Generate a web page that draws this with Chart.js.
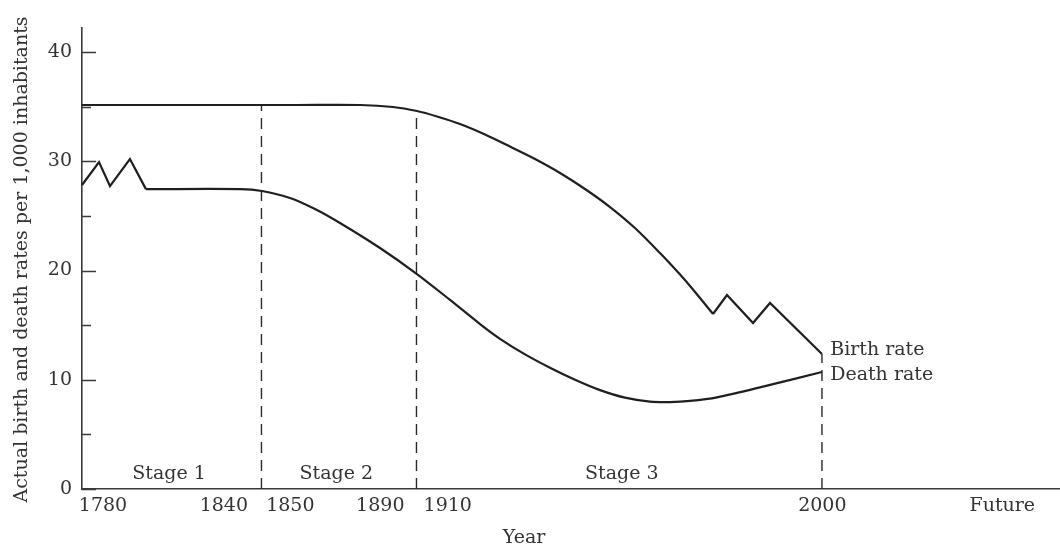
<!DOCTYPE html>
<html>
<head>
<meta charset="utf-8">
<script src="https://cdn.jsdelivr.net/npm/chart.js@4.4.1/dist/chart.umd.min.js"></script>
<style>
  html, body { margin: 0; padding: 0; background: #ffffff; }
  #wrap { width: 1060px; height: 548px; position: relative; }
</style>
</head>
<body>
<div id="wrap"><canvas id="c"></canvas></div>
<script>
// ---- data (x in schematic axis units 0..100, y in rate per 1,000) ----
const xTickPos    = [2.15, 14.5, 21.3, 30.5, 37.4, 75.7, 94.1];
const xTickLabels = ['1780', '1840', '1850', '1890', '1910', '2000', 'Future'];
const yMajorTicks = [0, 10, 20, 30, 40];
const yMinorTicks = [5, 15, 25, 35];

const birthX = [0, 22, 28.43, 31.8, 34.25, 36.3, 38.65, 41.21, 43.76, 46.32, 48.88, 51.43, 53.99, 56.54, 59.1, 61.15, 62.47, 64.52, 65.95, 68.61, 70.35, 75.66];
const birthY = [35.15, 35.15, 35.15, 34.97, 34.6, 34.1, 33.41, 32.45, 31.35, 30.21, 28.93, 27.46, 25.81, 23.89, 21.6, 19.63, 18.26, 16.02, 17.76, 15.19, 17.03, 12.36];
const birthSmoothEnd = 17;   // index where the smooth decline ends and zigzag begins

const deathX = [0, 1.74, 2.86, 4.9, 6.54, 16.2, 18.4, 21.27, 23.82, 26.38, 30.47, 34.25, 37.63, 40.7, 42.74, 45.3, 47.85, 50.41, 52.97, 55.52, 58.08, 60.12, 62.17, 64.93, 70.04, 75.66];
const deathY = [27.83, 29.93, 27.73, 30.2, 27.45, 27.45, 27.28, 26.64, 25.63, 24.35, 22.06, 19.68, 17.31, 15.1, 13.75, 12.32, 11.1, 10.0, 9.05, 8.36, 8.0, 7.96, 8.06, 8.39, 9.46, 10.71];
const deathZigEnd = 4;       // index where the zigzag ends and the smooth curve begins

const stageBounds = [18.35, 34.2, 75.66];
const stageTops   = [35.15, 34.6, 12.36];

const stageNames = ['Stage 1', 'Stage 2', 'Stage 3'];
const stageLabelX = [8.9, 26.0, 55.2];
const stageLabelY = 1.4;

const seriesNames = ['Birth rate', 'Death rate'];
const seriesLabelX = 76.5;
const seriesLabelY = [12.7, 10.4];

// ---- build datasets ----
const pts = (xs, ys) => xs.map((x, i) => ({ x: x, y: ys[i] }));
const LINE = '#1f1f1f';
const TEXT = '#333333';
const FONT = '"DejaVu Serif", serif';

const birthPts = pts(birthX, birthY);
const deathPts = pts(deathX, deathY);

const datasets = [
  { label: 'Birth rate', data: birthPts.slice(0, birthSmoothEnd + 1), tension: 0.3 },
  { label: 'Birth rate zigzag', data: birthPts.slice(birthSmoothEnd), tension: 0 },
  { label: 'Death rate zigzag', data: deathPts.slice(0, deathZigEnd + 1), tension: 0 },
  { label: 'Death rate', data: deathPts.slice(deathZigEnd), tension: 0.3 }
].map(d => Object.assign({ borderColor: LINE, borderWidth: 2.2, pointRadius: 0, fill: false, clip: false, borderJoinStyle: 'miter' }, d));

stageBounds.forEach((b, i) => {
  datasets.push({
    label: 'boundary ' + i,
    data: [{ x: b, y: 0 }, { x: b, y: stageTops[i] }],
    borderColor: '#2a2a2a', borderWidth: 1.4, borderDash: [11, 7],
    pointRadius: 0, fill: false, tension: 0
  });
});

// ---- plugin: inward y ticks and text annotations ----
const annotate = {
  id: 'annotate',
  afterDraw(chart) {
    const ctx = chart.ctx;
    const xs = chart.scales.x, ys = chart.scales.y;
    const area = chart.chartArea;
    ctx.save();
    ctx.strokeStyle = '#3a3a3a';
    ctx.lineWidth = 1.5;
    yMajorTicks.forEach(v => {
      const p = Math.round(ys.getPixelForValue(v)) + 0.5;
      ctx.beginPath(); ctx.moveTo(area.left, p); ctx.lineTo(area.left + 14, p); ctx.stroke();
    });
    yMinorTicks.forEach(v => {
      const p = Math.round(ys.getPixelForValue(v)) + 0.5;
      ctx.beginPath(); ctx.moveTo(area.left, p); ctx.lineTo(area.left + 9, p); ctx.stroke();
    });

    ctx.fillStyle = TEXT;
    ctx.font = '19px ' + FONT;
    ctx.textBaseline = 'middle';
    ctx.textAlign = 'center';
    stageNames.forEach((s, i) => {
      ctx.fillText(s, xs.getPixelForValue(stageLabelX[i]), ys.getPixelForValue(stageLabelY));
    });
    ctx.textAlign = 'left';
    seriesNames.forEach((s, i) => {
      ctx.fillText(s, xs.getPixelForValue(seriesLabelX), ys.getPixelForValue(seriesLabelY[i]));
    });
    // axis titles
    ctx.textAlign = 'center';
    ctx.fillText('Year', xs.getPixelForValue(45.2), area.bottom + 49);
    ctx.translate(22, (area.top + area.bottom) / 2 + 1);
    ctx.rotate(-Math.PI / 2);
    ctx.fillText('Actual birth and death rates per 1,000 inhabitants', 0, 0);
    ctx.restore();
  }
};

new Chart(document.getElementById('c'), {
  type: 'line',
  data: { datasets: datasets },
  options: {
    responsive: true,
    maintainAspectRatio: false,
    animation: false,
    events: [],
    layout: { padding: { top: 28, right: 0, left: 0, bottom: 0 } },
    plugins: { legend: { display: false }, tooltip: { enabled: false } },
    scales: {
      x: {
        type: 'linear', min: 0, max: 100,
        grid: { display: false, drawTicks: false },
        border: { display: true, color: '#3a3a3a', width: 1.6 },
        afterBuildTicks: s => { s.ticks = xTickPos.map(v => ({ value: v })); },
        afterFit: s => { s.height = 59; },
        ticks: {
          autoSkip: false, maxRotation: 0, minRotation: 0, padding: 6,
          color: TEXT, font: { family: FONT, size: 19 },
          callback: (v, i) => xTickLabels[i]
        }
      },
      y: {
        type: 'linear', min: 0, max: 42.2,
        grid: { display: false, drawTicks: false },
        border: { display: true, color: '#3a3a3a', width: 1.6 },
        afterBuildTicks: s => { s.ticks = yMajorTicks.map(v => ({ value: v })); },
        afterFit: s => { s.width = 82; },
        ticks: {
          padding: 10, color: TEXT, font: { family: FONT, size: 19 },
          callback: v => String(v)
        }
      }
    }
  },
  plugins: [annotate]
});
</script>
</body>
</html>
